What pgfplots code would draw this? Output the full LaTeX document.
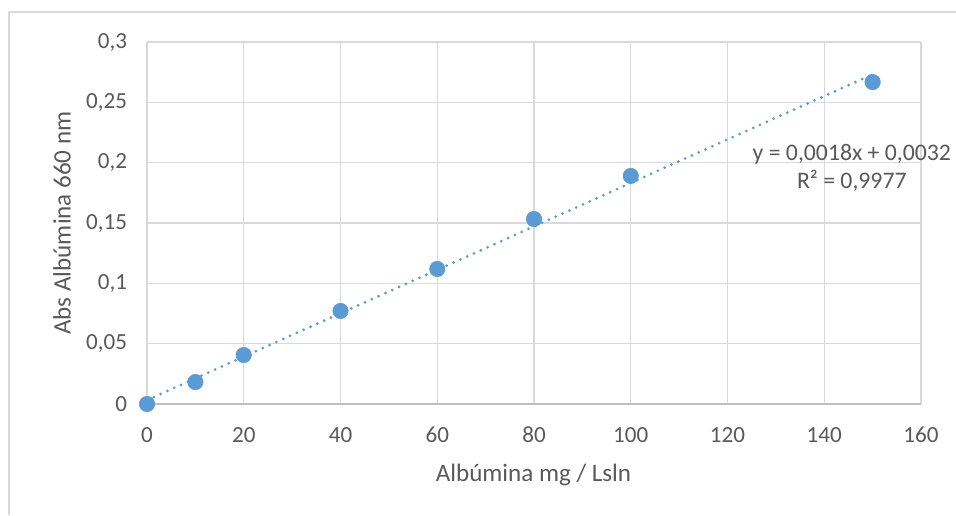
\documentclass[border=0pt]{standalone}
\usepackage{pgfplots}
\pgfplotsset{compat=1.18}
\usepackage{fontspec}
\setmainfont{Carlito}
\definecolor{txt}{HTML}{595959}
\definecolor{gridc}{HTML}{D9D9D9}
\definecolor{axc}{HTML}{BFBFBF}
\definecolor{pt}{HTML}{5B9BD5}
\begin{document}
\begin{tikzpicture}
\useasboundingbox (0pt,0pt) rectangle (717pt,386.25pt);
\draw[gridc, line width=1pt] (6.75pt,0pt) -- (6.75pt,377.25pt) -- (717pt,377.25pt);
\begin{axis}[
  at={(110.25pt,83.25pt)}, anchor=origin,
  scale only axis, width=580.5pt, height=271.5pt,
  xmin=0, xmax=160, ymin=0, ymax=0.3,
  xtick={0,20,...,160},
  ytick={0,0.05,0.1,0.15,0.2,0.25,0.3},
  yticklabels={0,{0,05},{0,1},{0,15},{0,2},{0,25},{0,3}},
  /pgf/number format/assume math mode=true,
  major tick length=0pt,
  grid=major,
  major grid style={gridc, line width=0.9pt},
  axis line style={draw=none},
  ticklabel style={font=\fontsize{17.3}{20}\selectfont, text=txt},
  xticklabel style={anchor=center, yshift=-23pt},
  yticklabel style={anchor=east, xshift=-11.5pt},
  xlabel={Albúmina mg / Lsln},
  ylabel={Abs Albúmina 660 nm},
  label style={font=\fontsize{18.8}{22}\selectfont, text=txt},
  xlabel style={at={(axis description cs:0.4994,-0.196)}, anchor=center},
  ylabel style={at={(axis description cs:-0.1098,0.5)}, anchor=center},
  clip=false,
]
\draw[axc, line width=1.1pt] (axis cs:0,0) -- (axis cs:160,0);
\addplot[pt, line width=2.3pt, line cap=round, dash pattern=on 0pt off 5.6pt]
  coordinates {(0,0.0032) (150,0.2732)};
\addplot[only marks, mark=*, mark size=5.8pt, mark options={fill=pt, draw=pt}]
  coordinates {(0,0) (10,0.0182) (20,0.0406) (40,0.0771) (60,0.1119) (80,0.1533) (100,0.189) (150,0.2668)};
\node[align=center, text=txt, font=\fontsize{17.8}{20.5}\selectfont] at (axis cs:145.7,0.1956)
  {y = 0,0018x + 0,0032\\R² = 0,9977};
\end{axis}
\end{tikzpicture}
\end{document}
